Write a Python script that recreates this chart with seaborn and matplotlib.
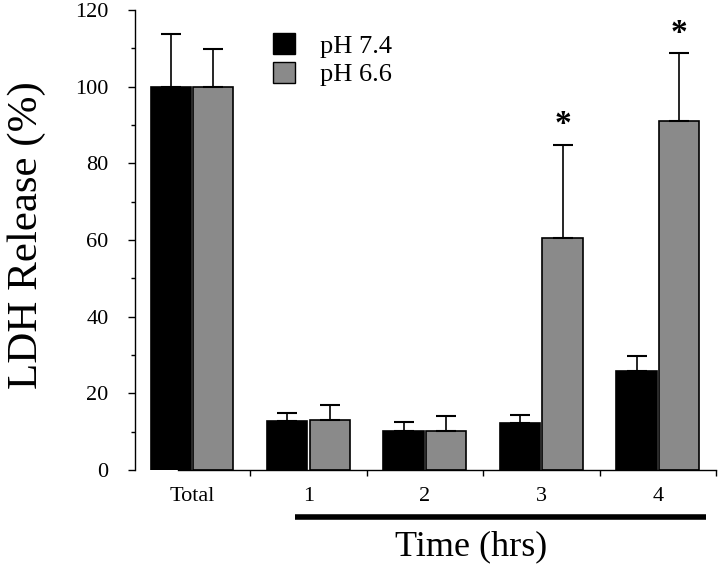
import matplotlib

matplotlib.use("Agg")

import numpy as np
import pandas as pd
import seaborn as sns
from matplotlib import pyplot as plt
from matplotlib.patches import Patch

# data
times = ["Total", "1", "2", "3", "4"]
ph74 = [100, 12.8, 10.3, 12.3, 25.8]
ph74_err = [13.7, 2.2, 2.2, 2.1, 4.0]
ph66 = [100, 13.1, 10.2, 60.5, 91.0]
ph66_err = [9.8, 3.9, 3.9, 24.3, 17.8]
star_groups = ["3", "4"]
star_y = [90.0, 113.8]

sns.set_style("ticks")
plt.rcParams["font.family"] = ["Liberation Serif", "DejaVu Serif"]
plt.rcParams["text.color"] = "black"
plt.rcParams["xtick.color"] = "black"
plt.rcParams["ytick.color"] = "black"
plt.rcParams["axes.labelcolor"] = "black"

df = pd.DataFrame(
    {
        "time": times * 2,
        "ldh": ph74 + ph66,
        "ph": ["pH 7.4"] * len(times) + ["pH 6.6"] * len(times),
    }
)

fig = plt.figure(figsize=(7.2, 5.67), dpi=100)
ax = fig.add_axes([135 / 720, 1 - 470 / 567, 581 / 720, 460 / 567])

sns.barplot(
    data=df,
    x="time",
    y="ldh",
    hue="ph",
    order=times,
    hue_order=["pH 7.4", "pH 6.6"],
    palette=["black", "#8a8a8a"],
    errorbar=None,
    width=0.73,
    gap=0.05,
    edgecolor="black",
    linewidth=1.2,
    legend=False,
    ax=ax,
)

# one-sided error bars on top of each bar
for container, errs in zip(ax.containers, [ph74_err, ph66_err]):
    xs = [p.get_x() + p.get_width() / 2 for p in container.patches]
    ys = [p.get_height() for p in container.patches]
    ax.errorbar(
        xs,
        ys,
        yerr=[np.zeros(len(errs)), errs],
        fmt="none",
        ecolor="black",
        elinewidth=1.2,
        capsize=7,
        capthick=1.5,
        zorder=1,
    )

gray_bars = ax.containers[1].patches
for grp, sy in zip(star_groups, star_y):
    p = gray_bars[times.index(grp)]
    ax.text(
        p.get_x() + p.get_width() / 2,
        sy,
        "*",
        ha="center",
        va="center",
        fontsize=24,
        fontweight="bold",
    )

ax.set_xlim(-0.49, 4.5)
ax.set_ylim(0, 120)
ax.set_yticks(range(0, 121, 20))
ax.set_yticks(range(10, 120, 20), minor=True)
ax.tick_params(axis="y", which="major", length=5, width=1, pad=14, labelsize=16,
               labelcolor="black")
ax.tick_params(axis="y", which="minor", length=3, width=1)
ax.set_xticks(range(len(times)))
ax.set_xticklabels(times)
ax.set_xticks([0.5, 1.5, 2.5, 3.5, 4.5], minor=True)
ax.tick_params(axis="x", which="major", length=0, pad=12, labelsize=16,
               labelcolor="black")
ax.tick_params(axis="x", which="minor", length=4, width=1)
ax.set_xlabel("")
ax.set_ylabel("")
sns.despine(ax=ax)
ax.spines["bottom"].set_bounds(-0.12, 4.5)
for s in ["left", "bottom"]:
    ax.spines[s].set_linewidth(1)
    ax.spines[s].set_color("black")

ax.text(-0.186, 0.51, "LDH Release (%)", transform=ax.transAxes, rotation=90,
        ha="center", va="center", fontsize=31)

# bar under time points and axis title
ax.plot([0.88, 4.41], [-0.102, -0.102], color="black", lw=4,
        transform=ax.get_xaxis_transform(), clip_on=False, solid_capstyle="butt")
ax.text(2.4, -0.167, "Time (hrs)", transform=ax.get_xaxis_transform(),
        ha="center", va="center", fontsize=26)

handles = [
    Patch(facecolor="black", edgecolor="black", label="pH 7.4"),
    Patch(facecolor="#8a8a8a", edgecolor="black", label="pH 6.6"),
]
fig.legend(
    handles=handles,
    loc="upper left",
    bbox_to_anchor=(273 / 720, 1 - 33 / 567),
    frameon=False,
    fontsize=19,
    handlelength=0.85,
    handleheight=0.85,
    handletextpad=0.95,
    labelspacing=0.15,
    borderpad=0,
    borderaxespad=0,
)

fig.savefig("out.png", dpi=100)
